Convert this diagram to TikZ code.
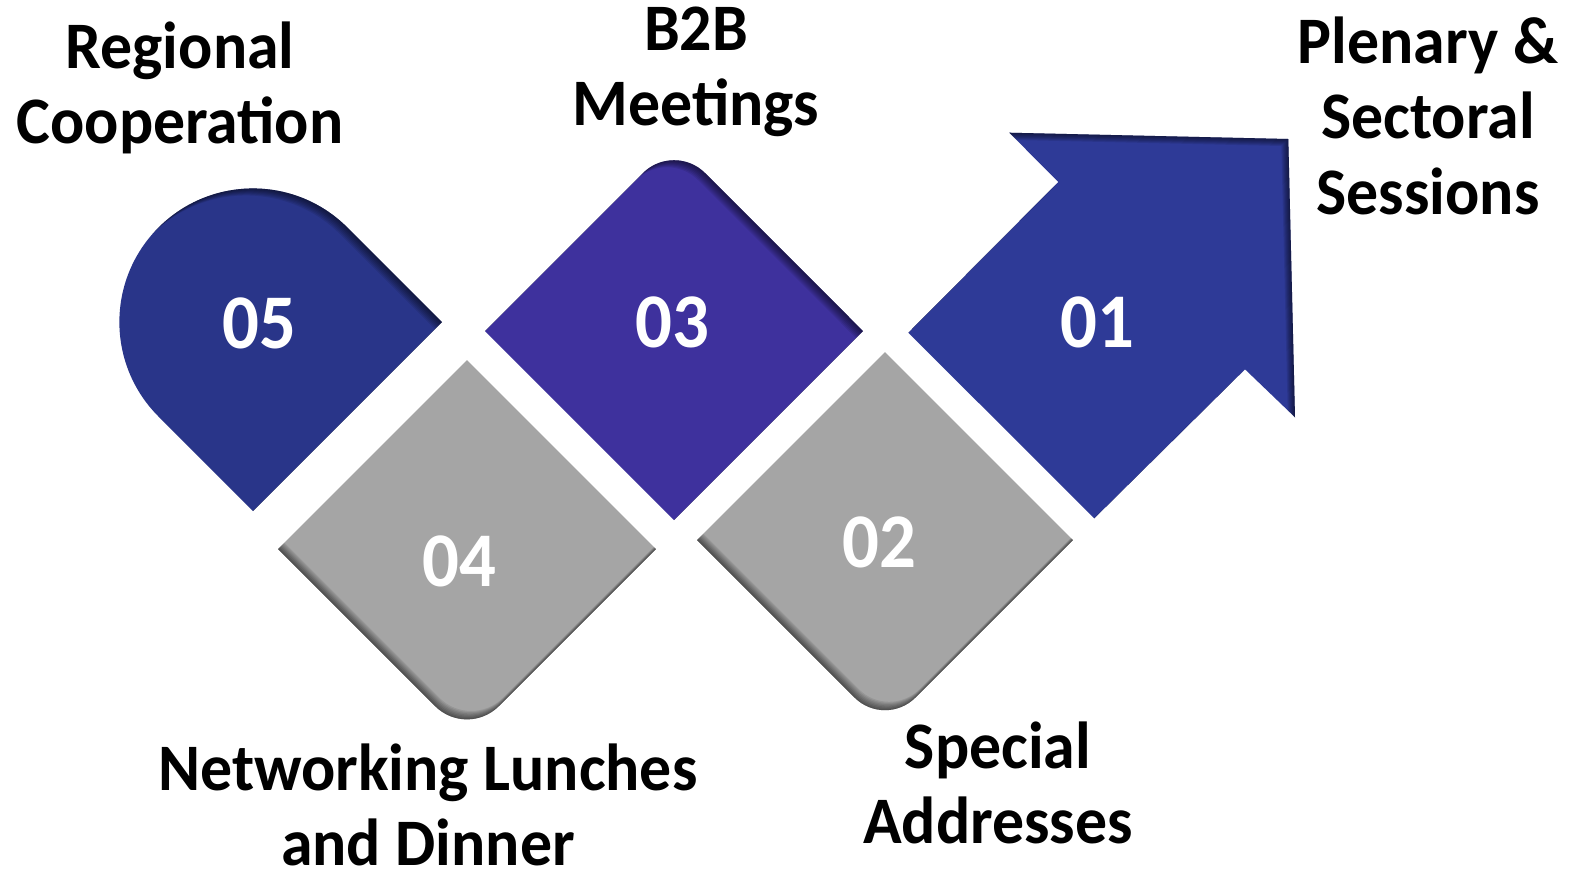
\documentclass[tikz,border=0pt]{standalone}
\usepackage{fontspec}
\setmainfont{Carlito}
\newfontfamily\lblfam{Carlito}[FakeStretch=0.96]
\newfontfamily\numfam{Carlito}[FakeStretch=0.94]
\definecolor{cfive}{RGB}{41,53,137}
\definecolor{cthree}{RGB}{62,49,157}
\definecolor{cone}{RGB}{46,58,151}
\definecolor{cgray}{RGB}{165,165,165}
\newcommand\lblfont{\lblfam\fontsize{18.9pt}{21.5pt}\selectfont\bfseries}
\newcommand\numfont{\numfam\fontsize{22pt}{24pt}\selectfont\bfseries}
\newcommand\pathE{(442,322) -- (253,511) -- (158.5,416.5) arc[start angle=135,end angle=315,radius=133.6] -- cycle}
\newcommand\pathC{(485,331) -- (642.9,173.1) arc[start angle=225,end angle=315,radius=44] -- (863,331) -- (674,520) -- cycle}
\newcommand\pathD{(467,360) -- (656,549) -- (498.8,706.2) arc[start angle=45,end angle=135,radius=45] -- (278,549) -- cycle}
\newcommand\pathB{(885,352) -- (1073,540) -- (915.4,697.6) arc[start angle=45,end angle=135,radius=43] -- (697,540) -- cycle}
\newcommand\pathA{(1009.3,132.7) -- (1288.3,139) -- (1295,417.3) -- (1245,369.3) -- (1094.3,518.3) -- (908.3,332.7) -- (1058.3,182) -- cycle}
\newcommand\innershadow[3]{%
  \begin{scope}
    \clip #1;
    \foreach \k in {1,...,7}{
      \fill[black,opacity=0.09,even odd rule,shift={(\k*#2,\k*#3)}] (-300,-300) rectangle (1900,1200) #1;
    }
  \end{scope}}
\begin{document}
\begin{tikzpicture}[x=0.01cm,y=-0.01cm,
  lbl/.style={inner sep=0pt,anchor=base,font=\lblfont},
  num/.style={inner sep=0pt,anchor=base,text=white,font=\numfont}]
\useasboundingbox (0,0) rectangle (1572,878);
% shapes
\fill[cfive] \pathE;
\innershadow{\pathE}{-1}{1}
\fill[cthree] \pathC;
\innershadow{\pathC}{-1}{1}
\fill[cgray] \pathD;
\innershadow{\pathD}{0.6}{-1.2}
\fill[cgray] \pathB;
\innershadow{\pathB}{0.6}{-1.2}
\fill[cone] \pathA;
\innershadow{\pathA}{-1}{1}
% numbers
\node[num] (n5) at (259,348) {05};
\node[num] (n3) at (672,347) {03};
\node[num] (n4) at (459,586) {04};
\node[num] (n2) at (879,567) {02};
\node[num] (n1) at (1097,347) {01};
% labels
\node[lbl] (l5) at (180,68) {\begin{tabular}[t]{@{}c@{}}Regional\\Cooperation\end{tabular}};
\node[lbl] (l3) at (696,50) {\begin{tabular}[t]{@{}c@{}}B2B\\Meetings\end{tabular}};
\node[lbl] (l1) at (1428,63) {\begin{tabular}[t]{@{}c@{}}Plenary \&\\Sectoral\\Sessions\end{tabular}};
\node[lbl] (l2) at (998,768) {\begin{tabular}[t]{@{}c@{}}Special\\Addresses\end{tabular}};
\node[lbl] (l4) at (428,790) {\begin{tabular}[t]{@{}c@{}}Networking Lunches\\and Dinner\end{tabular}};
\end{tikzpicture}
\end{document}
